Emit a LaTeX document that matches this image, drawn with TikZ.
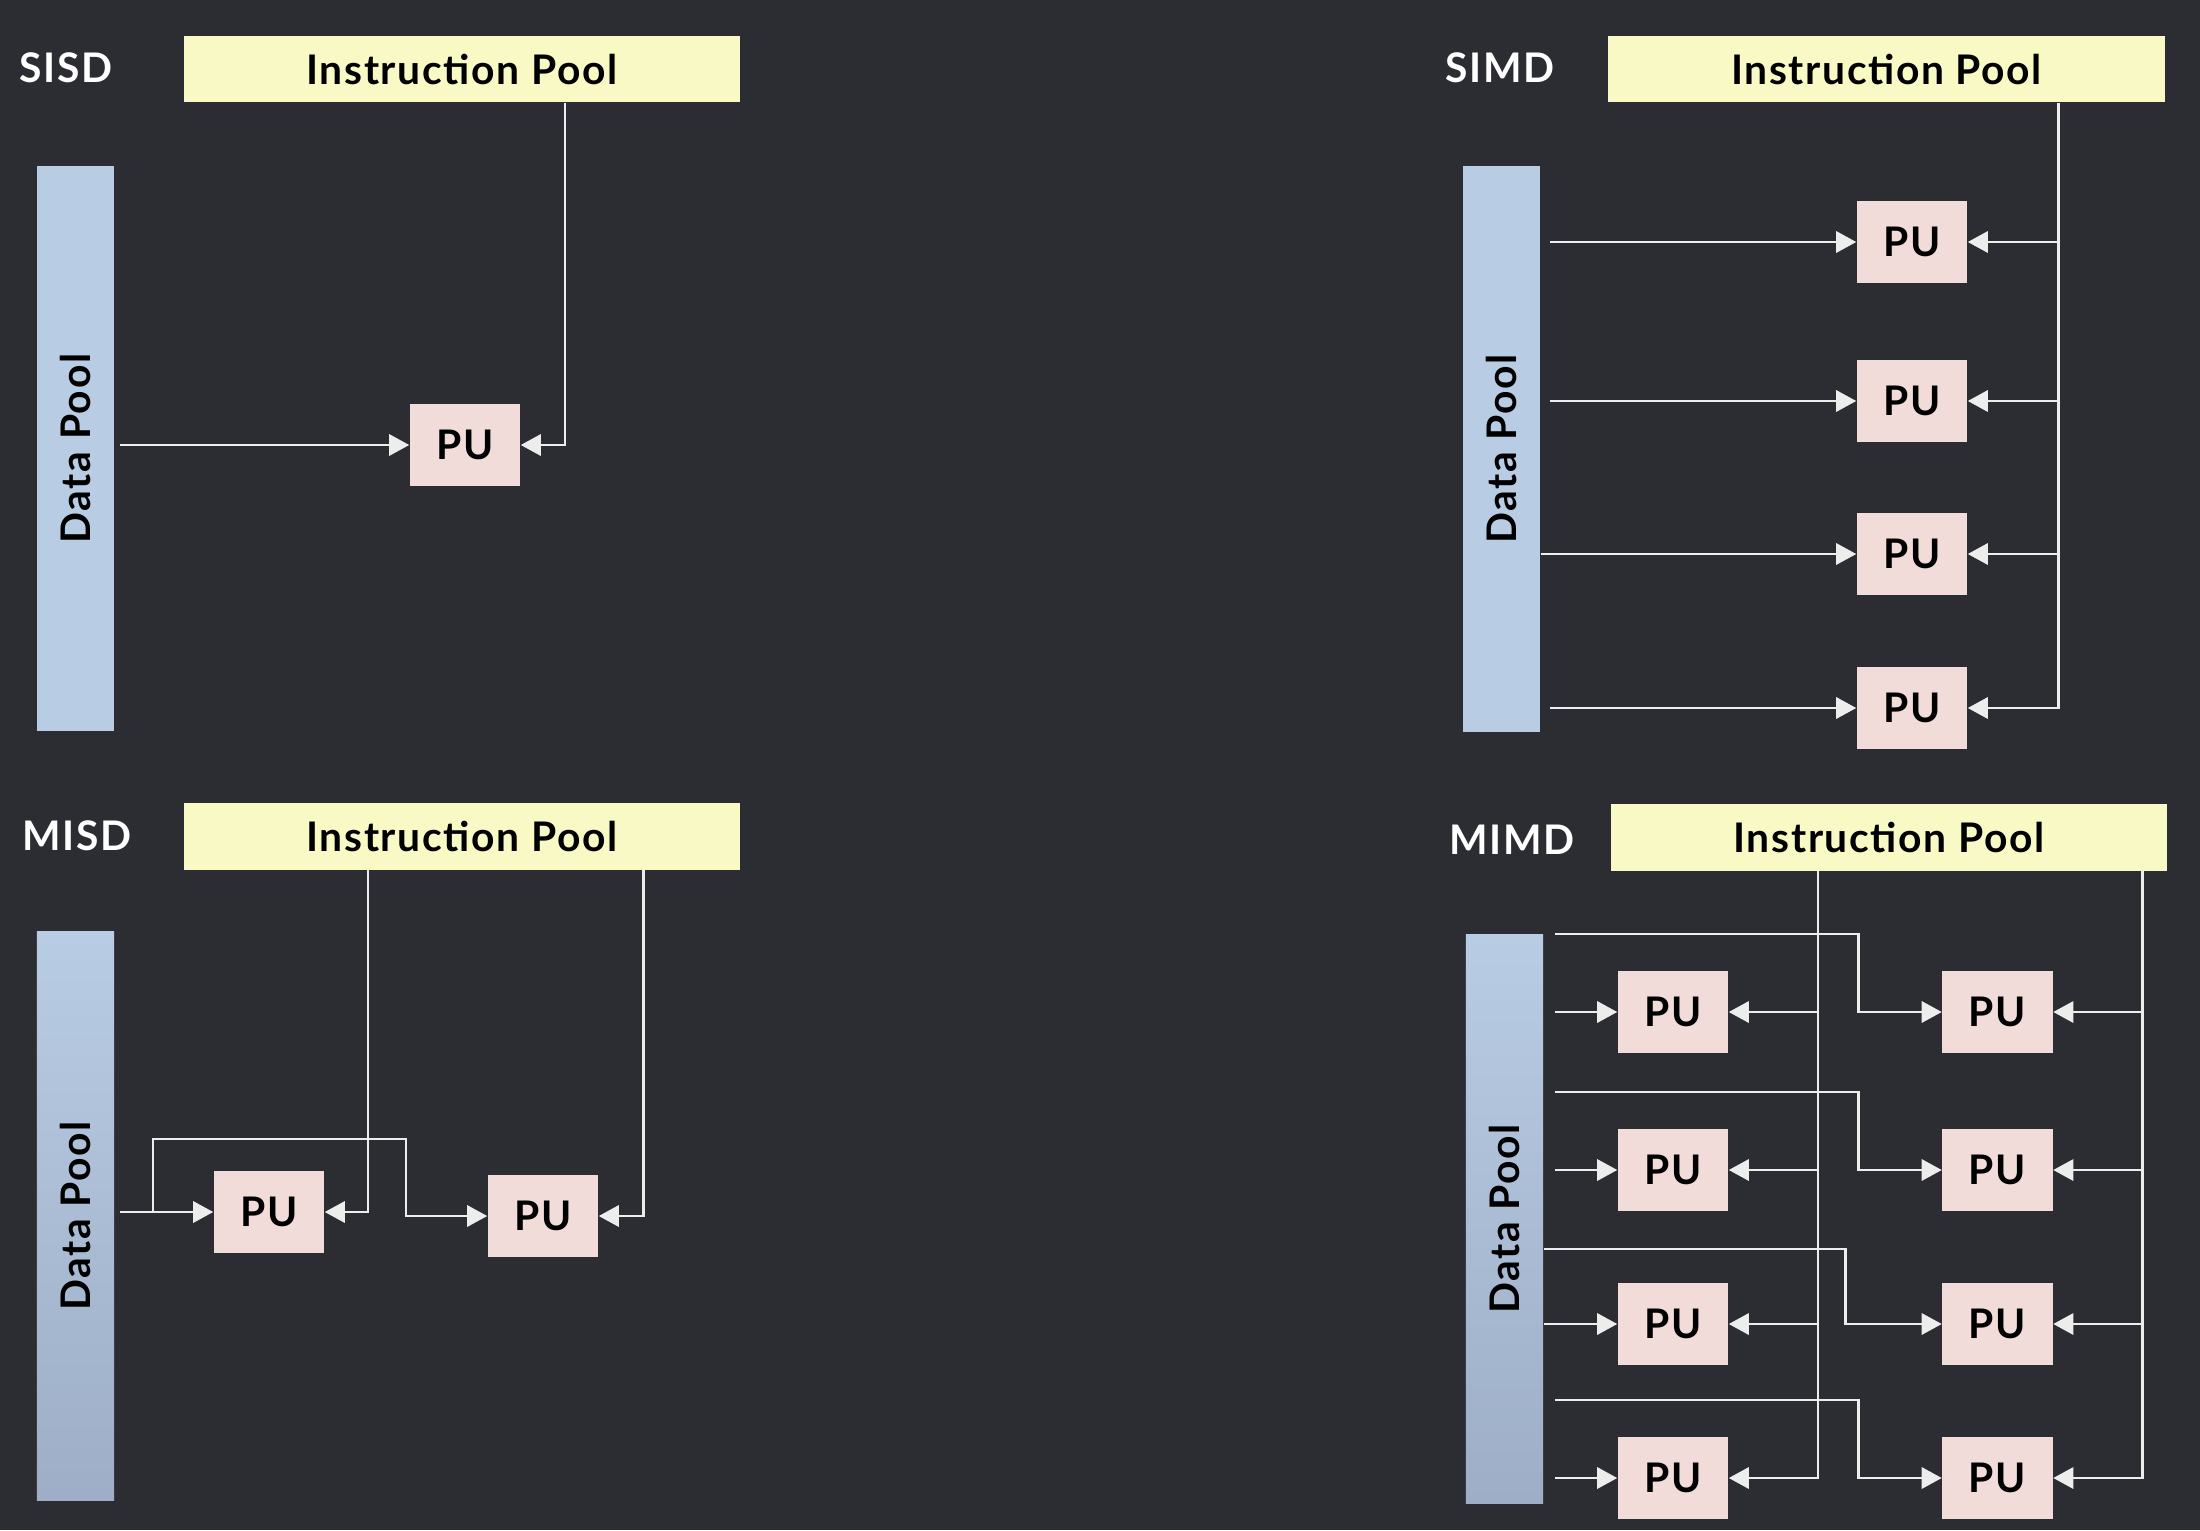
\documentclass[tikz,border=0pt]{standalone}
\usepackage{fontspec}
\setmainfont{Lato}[LetterSpace=4]
\usetikzlibrary{arrows.meta, positioning}
\definecolor{bgdark}{HTML}{2C2D33}
\definecolor{poolyellow}{HTML}{F9F9C6}
\definecolor{poolblue}{HTML}{B8CCE4}
\definecolor{poolbluedark}{HTML}{9DAEC6}
\definecolor{pupink}{HTML}{F1DCDA}
\definecolor{wirewhite}{HTML}{EDEDED}

\begin{document}
\begin{tikzpicture}[x=0.01cm, y=-0.01cm,
  font=\fontsize{11.6}{13}\selectfont\bfseries,
  >={Triangle[length=5.7pt, width=6pt]},
  ipool/.style={fill=poolyellow, minimum width=5.56cm, minimum height=0.66cm, inner sep=0},
  dpool/.style={fill=poolblue, minimum width=0.77cm, minimum height=5.65cm, inner sep=0},
  dpoolshade/.style={top color=poolblue, bottom color=poolbluedark, minimum width=0.77cm, minimum height=5.68cm, inner sep=0},
  pu/.style={fill=pupink, minimum width=1.1cm, minimum height=0.82cm, inner sep=0},
  flynn/.style={text=white, inner sep=0},
  wire/.style={draw=wirewhite, line width=0.8pt},
  arr/.style={wire, ->}]
\fill[bgdark] (0,0) rectangle (2200,1530);
\useasboundingbox (0,0) rectangle (2200,1530);
% SISD
\node[flynn] (t1) at (66,68) {SISD};
\node[ipool] (ip1) at (462,69) {Instruction Pool};
\node[dpool] (dp1) at (75.5,448.5) {\rotatebox{90}{Data Pool}};
\node[pu] (pu1) at (465,445) {PU};
% SIMD
\node[flynn] (t2) at (1500,68) {SIMD};
\node[ipool] (ip2) at (1886.5,69) {Instruction Pool};
\node[dpool] (dp2) at (1501.5,449) {\rotatebox{90}{Data Pool}};
\node[pu] (pu2a) at (1912,242) {PU};
\node[pu] (pu2b) at (1912,401) {PU};
\node[pu] (pu2c) at (1912,554) {PU};
\node[pu] (pu2d) at (1912,708) {PU};
% MISD
\node[flynn] (t3) at (77,836) {MISD};
\node[ipool] (ip3) at (462,836.5) {Instruction Pool};
\node[dpoolshade] (dp3) at (75.5,1216) {\rotatebox{90}{Data Pool}};
\node[pu] (pu3a) at (269,1212) {PU};
\node[pu] (pu3b) at (543,1216) {PU};
% MIMD
\node[flynn] (t4) at (1512,840) {MIMD};
\node[ipool] (ip4) at (1889,837.5) {Instruction Pool};
\node[dpoolshade] (dp4) at (1504.5,1219) {\rotatebox{90}{Data Pool}};
\node[pu] (pu4a) at (1673,1012) {PU};
\node[pu] (pu4b) at (1673,1170) {PU};
\node[pu] (pu4c) at (1673,1324) {PU};
\node[pu] (pu4d) at (1673,1478) {PU};
\node[pu] (pu4e) at (1997.5,1012) {PU};
\node[pu] (pu4f) at (1997.5,1170) {PU};
\node[pu] (pu4g) at (1997.5,1324) {PU};
\node[pu] (pu4h) at (1997.5,1478) {PU};
\coordinate (v2) at ([xshift=1.715cm]ip2.south);
\coordinate (v4a) at ([xshift=-0.71cm]ip4.south);
\coordinate (v4b) at ([xshift=2.53cm]ip4.south);
\coordinate (s3) at (153,1212);
% Arrows
\draw[arr] ([xshift=1.03cm]ip1.south) |- (pu1);
\draw[arr] ([xshift=0.05cm]dp1.east |- pu1) -- (pu1);
\draw[arr] (v2) |- (pu2d);
\draw[arr] (v2 |- pu2a) -- (pu2a);
\draw[arr] (v2 |- pu2b) -- (pu2b);
\draw[arr] (v2 |- pu2c) -- (pu2c);
\draw[arr] ([xshift=0.09cm]dp2.east |- pu2a) -- (pu2a);
\draw[arr] ([xshift=0.09cm]dp2.east |- pu2b) -- (pu2b);
\draw[arr] (dp2.east |- pu2c) -- (pu2c);
\draw[arr] ([xshift=0.09cm]dp2.east |- pu2d) -- (pu2d);
\draw[arr] ([xshift=-0.94cm]ip3.south) |- (pu3a);
\draw[arr] ([xshift=1.81cm]ip3.south) |- (pu3b);
\draw[arr] ([xshift=0.05cm]dp3.east |- pu3a) -- (pu3a);
\draw[arr] (s3) -- ++(0,-73) -- ++(253,0) |- (pu3b);
\draw[arr] (v4a) |- (pu4d);
\draw[arr] (v4a |- pu4a) -- (pu4a);
\draw[arr] (v4a |- pu4b) -- (pu4b);
\draw[arr] (v4a |- pu4c) -- (pu4c);
\draw[arr] (v4b) |- (pu4h);
\draw[arr] (v4b |- pu4e) -- (pu4e);
\draw[arr] (v4b |- pu4f) -- (pu4f);
\draw[arr] (v4b |- pu4g) -- (pu4g);
\draw[arr] ([xshift=0.11cm]dp4.east |- pu4a) -- (pu4a);
\draw[arr] ([xshift=0.11cm]dp4.east |- pu4b) -- (pu4b);
\draw[arr] (dp4.east |- pu4c) -- (pu4c);
\draw[arr] ([xshift=0.11cm]dp4.east |- pu4d) -- (pu4d);
% Data to the second column:
\draw[arr] ([xshift=0.11cm, yshift=0.78cm]dp4.east |- pu4e) -- ++(304,0) |- (pu4e);
\draw[arr] ([xshift=0.11cm, yshift=0.78cm]dp4.east |- pu4f) -- ++(304,0) |- (pu4f);
\draw[arr] ([yshift=0.75cm]dp4.east |- pu4g) -- ++(302,0) |- (pu4g);
\draw[arr] ([xshift=0.11cm, yshift=0.78cm]dp4.east |- pu4h) -- ++(304,0) |- (pu4h);
\end{tikzpicture}
\end{document}
